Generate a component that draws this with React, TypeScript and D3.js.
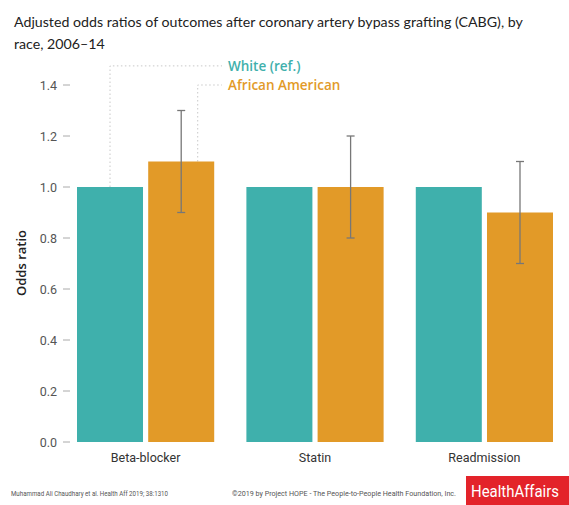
import React from "react";
import * as d3 from "d3";

const categories = ["Beta-blocker", "Statin", "Readmission"];
const seriesNames = ["White (ref.)", "African American"];
const whiteValues = [1.0, 1.0, 1.0];
const aaValues = [1.1, 1.0, 0.9];
const aaLow = [0.9, 0.8, 0.7];
const aaHigh = [1.3, 1.2, 1.1];
const yTicks = [0, 0.2, 0.4, 0.6, 0.8, 1.0, 1.2, 1.4];

const TEAL = "#3fb0ac";
const ORANGE = "#e29a28";

export default function App() {
  const W = 569, H = 505;
  const y = d3.scaleLinear().domain([0, 1.4]).range([442, 85]);
  const x0 = d3.scaleBand().domain(categories).range([77, 553]).paddingInner(0.19).paddingOuter(0.0);
  const x1 = d3.scaleBand().domain(seriesNames).range([0, x0.bandwidth()]).paddingInner(0.073);
  const tickFont = "Roboto, sans-serif";
  const textFont = "Lato, 'Open Sans', sans-serif";

  const tealCx = (x0(categories[0]) as number) + (x1(seriesNames[0]) as number) + x1.bandwidth() / 2;
  const orX = (x0(categories[0]) as number) + (x1(seriesNames[1]) as number);
  const orLineX = orX + x1.bandwidth() * 0.75;

  return (
    <svg width={W} height={H} style={{ position: "absolute", left: 0, top: 0, background: "#fff" }}>
      <rect width={W} height={H} fill="#fff" />
      <text x={14} y={27} fontFamily={textFont} fontSize={14.2} fill="#222">
        Adjusted odds ratios of outcomes after coronary artery bypass grafting (CABG), by
      </text>
      <text x={14} y={49} fontFamily={textFont} fontSize={14.2} fill="#222">race, 2006–14</text>

      {/* legend leader lines */}
      <polyline
        points={`${tealCx},${y(whiteValues[0])} ${tealCx},${y(1.475)} 222,${y(1.475)}`}
        fill="none" stroke="#c8c8c8" strokeWidth={1} strokeDasharray="1.5,2.5"
      />
      <polyline
        points={`${orLineX},${y(aaValues[0])} ${orLineX},${y(1.4)} 222,${y(1.4)}`}
        fill="none" stroke="#c8c8c8" strokeWidth={1} strokeDasharray="1.5,2.5"
      />
      <text x={228} y={y(1.475) + 5} fontFamily="'Open Sans', sans-serif" fontSize={13.5} fontWeight={600} fill={TEAL}>{seriesNames[0]}</text>
      <text x={228} y={y(1.4) + 5} fontFamily="'Open Sans', sans-serif" fontSize={13.5} fontWeight={600} fill={ORANGE}>{seriesNames[1]}</text>

      {/* y axis */}
      {yTicks.map((t) => (
        <g key={t}>
          <line x1={63} x2={70} y1={y(t)} y2={y(t)} stroke="#aaa" strokeWidth={1} />
          <text x={57} y={y(t) + 4.5} textAnchor="end" fontFamily={tickFont} fontSize={12.5} fill="#555">{t.toFixed(1)}</text>
        </g>
      ))}
      <text transform={`translate(26,${263}) rotate(-90)`} textAnchor="middle" fontFamily="'Open Sans', sans-serif" fontSize={13} fontWeight={600} fill="#222">Odds ratio</text>

      {/* bars */}
      {categories.map((c, i) => {
        const bx = x0(c) as number;
        const wx = bx + (x1(seriesNames[0]) as number);
        const ax = bx + (x1(seriesNames[1]) as number);
        const cx = ax + x1.bandwidth() / 2;
        return (
          <g key={c}>
            <rect x={wx} y={y(whiteValues[i])} width={x1.bandwidth()} height={y(0) - y(whiteValues[i])} fill={TEAL} />
            <rect x={ax} y={y(aaValues[i])} width={x1.bandwidth()} height={y(0) - y(aaValues[i])} fill={ORANGE} />
            <line x1={cx} x2={cx} y1={y(aaHigh[i])} y2={y(aaLow[i])} stroke="#777" strokeWidth={1.3} />
            <line x1={cx - 4} x2={cx + 4} y1={y(aaHigh[i])} y2={y(aaHigh[i])} stroke="#777" strokeWidth={1.3} />
            <line x1={cx - 4} x2={cx + 4} y1={y(aaLow[i])} y2={y(aaLow[i])} stroke="#777" strokeWidth={1.3} />
            <text x={bx + x0.bandwidth() / 2} y={462} textAnchor="middle" fontFamily={tickFont} fontSize={12.5} fill="#333">{c}</text>
          </g>
        );
      })}

      {/* footer */}
      <text x={11} y={496} fontFamily={tickFont} fontSize={7.5} fill="#555" textLength={157} lengthAdjust="spacingAndGlyphs">Muhammad Ali Chaudhary et al. Health Aff 2019; 38:1310</text>
      <text x={232} y={496} fontFamily={tickFont} fontSize={7.5} fill="#555" textLength={224} lengthAdjust="spacingAndGlyphs">©2019 by Project HOPE - The People-to-People Health Foundation, Inc.</text>
      <rect x={466} y={476} width={103} height={29} fill="#e3232a" />
      <text x={471} y={497} fontFamily={tickFont} fontSize={16} fill="#fff" textLength={88} lengthAdjust="spacingAndGlyphs">HealthAffairs</text>
    </svg>
  );
}
